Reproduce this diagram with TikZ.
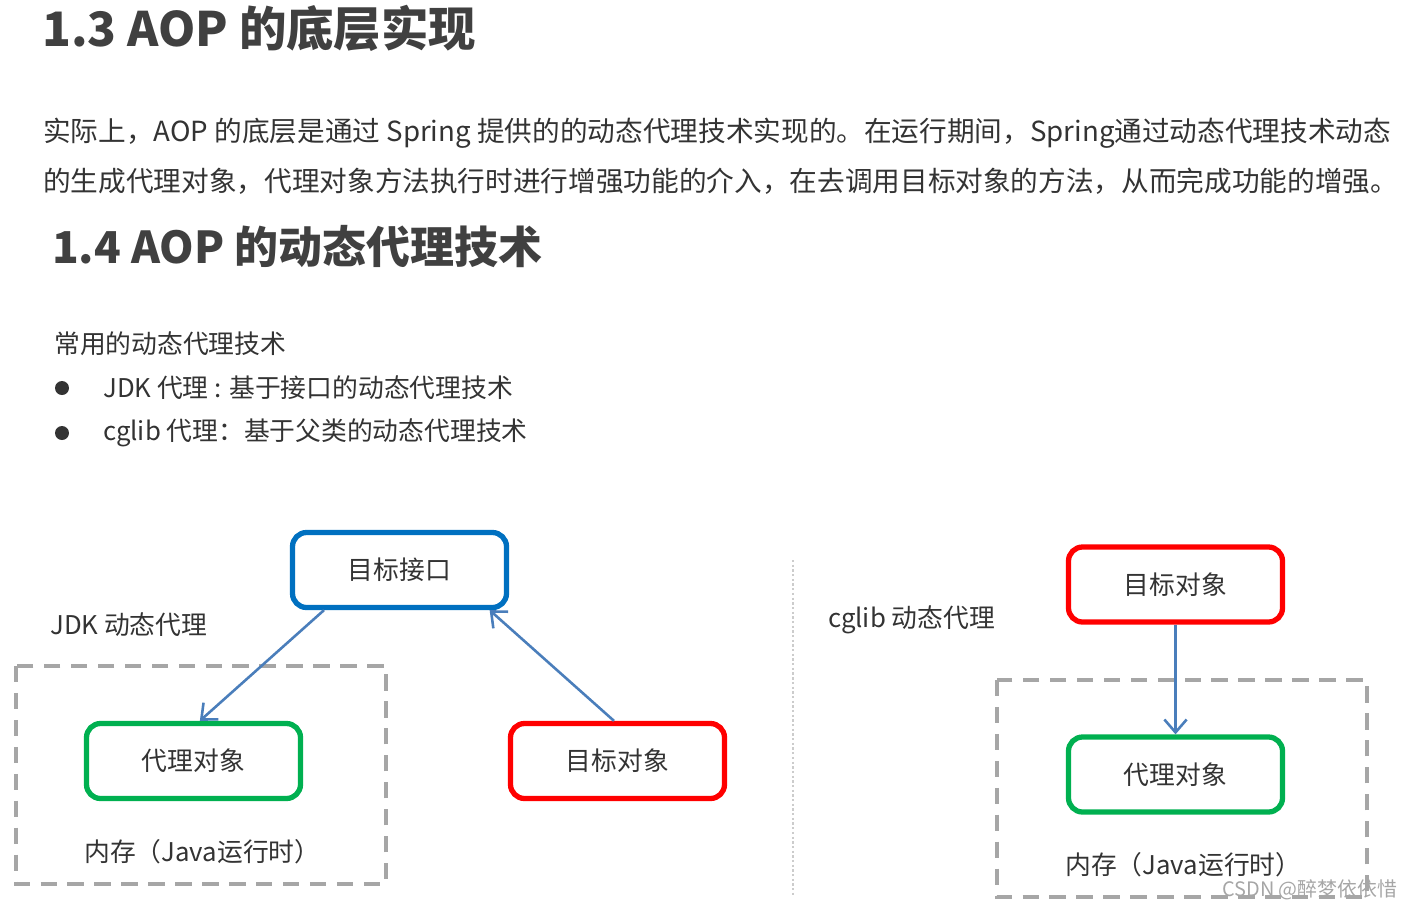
\documentclass[tikz,border=0pt]{standalone}
\usepackage{fontspec}
\setmainfont{Noto Sans CJK SC}
\usetikzlibrary{arrows.meta}
\definecolor{ink}{HTML}{333333}
\definecolor{head}{HTML}{404040}
\definecolor{ifblue}{HTML}{0070C0}
\definecolor{tgred}{HTML}{FF0000}
\definecolor{pxgreen}{HTML}{00B050}
\definecolor{callblue}{HTML}{4A7EBB}
\definecolor{memgray}{HTML}{A6A6A6}
\newcommand{\fs}[1]{\fontsize{#1}{#1}\selectfont}

\begin{document}
\begin{tikzpicture}[x=0.03cm,y=-0.03cm,
	obj/.style={draw, line width=4.5pt, rounded corners=12pt, minimum width=6.42cm,
		minimum height=2.25cm, text=ink, font=\fs{22pt}},
	lbl/.style={anchor=west, inner sep=0pt, text=ink, font=\fs{22pt}},
	hd/.style={anchor=west, inner sep=0pt, text=head, font=\bfseries\fs{#1}},
	call/.style={draw=callblue, line width=2.2pt, -{Straight Barb[length=11pt,width=19pt]}},
	mem/.style={draw=memgray, line width=3pt, dash pattern=on 14pt off 9pt}]
	\useasboundingbox (0,0) rectangle (1408,911);

	% text part
	\node[hd=40.5pt] (sec13) at (42,28) {1.3 AOP 的底层实现};
	\node[lbl, font=\fs{23.6pt}] (par1) at (43,133)
		{实际上，AOP 的底层是通过 Spring 提供的的动态代理技术实现的。在运行期间，Spring通过动态代理技术动态};
	\node[lbl, font=\fs{23.6pt}] (par2) at (43,181)
		{的生成代理对象，代理对象方法执行时进行增强功能的介入，在去调用目标对象的方法，从而完成功能的增强。};
	\node[hd=37.5pt] (sec14) at (52,247) {1.4 AOP 的动态代理技术};
	\node[lbl] (intro) at (54,344) {常用的动态代理技术};
	\fill[ink] (62,388) circle (7) (62,433) circle (7);
	\node[lbl] (jdkitem) at (103,388) {JDK 代理 : 基于接口的动态代理技术};
	\node[lbl] (cgitem) at (103,433) {cglib 代理：基于父类的动态代理技术};

	% JDK proxy
	\draw[mem] (16,666) rectangle (386,884);
	\node[obj, draw=ifblue] (iface) at (399.5,570) {目标接口};
	\node[obj, draw=pxgreen] (pxA) at (193.5,761) {代理对象};
	\node[obj, draw=tgred] (tgA) at (617.5,761) {目标对象};
	\node[lbl] (jdk) at (50,625) {JDK 动态代理};
	\node[lbl] (memA) at (84,852) {内存（Java运行时）};
	\draw[call] (iface.208) -- (pxA.81);
	\draw[call] (tgA.95) -- (iface.-24);

	\draw[gray!40, line width=1.2pt, dash pattern=on 2pt off 2pt] (793,560) -- (793,895);

	% cglib proxy
	\draw[mem] (997,680) rectangle (1367,897);
	\node[obj, draw=tgred] (tgB) at (1175.5,584.5) {目标对象};
	\node[obj, draw=pxgreen] (pxB) at (1175.5,774.5) {代理对象};
	\node[lbl] (cglib) at (828,620) {cglib 动态代理};
	\node[lbl] (memB) at (1065,865) {内存（Java运行时）};
	\draw[call] (tgB) -- (pxB);

	\node[anchor=west, inner sep=0pt, text=gray!70, font=\fs{17pt}] (mark) at (1222,890) {CSDN @醉梦依依惜};
\end{tikzpicture}
\end{document}
